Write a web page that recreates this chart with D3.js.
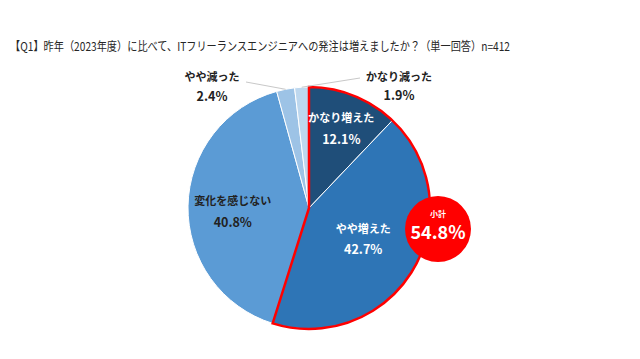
<!DOCTYPE html>
<html><head><meta charset="utf-8">
<script src="https://cdn.jsdelivr.net/npm/d3@7"></script>
<style>html,body{margin:0;padding:0;background:#fff;}svg{display:block;}</style>
</head><body>
<svg id="c" width="640" height="359"></svg>
<script>
const title = "【Q1】昨年（2023年度）に比べて、ITフリーランスエンジニアへの発注は増えましたか？（単一回答）n=412";
const categories = ["かなり増えた", "やや増えた", "変化を感じない", "やや減った", "かなり減った"];
const values = [12.1, 42.7, 40.8, 2.4, 1.9];
const subtotalLabel = "小計";
const subtotalValue = 54.8;

const colors = ["#1f4e79", "#2e75b6", "#5b9bd5", "#9dc3e6", "#bdd7ee"];
const textColors = ["#fff", "#fff", "#222", "#222", "#222"];
// layout: inside label radius fraction (+ vertical nudge), or outside label anchor
const labelLayout = [
  {inside: 0.72, dy: 2, gap: 22},
  {inside: 0.52, dy: 0, gap: 21},
  {inside: 0.63, dy: 5, gap: 22},
  {outside: [212, 78], lineEnd: [246, 82], gap: 20},
  {outside: [399, 78], lineEnd: [360, 78], gap: 19}
];

const svg = d3.select("#c");
const font = "'Noto Sans CJK JP', 'Noto Sans', sans-serif";
const cx = 309, cy = 208, R = 121;

svg.append("text").attr("x", 10).attr("y", 51)
  .attr("font-family", font).attr("font-size", 12).attr("fill", "#262626")
  .attr("textLength", 500).attr("lengthAdjust", "spacingAndGlyphs")
  .text(title);

const data = categories.map((c, i) => ({cat: c, value: values[i], i}));
const pie = d3.pie().value(d => d.value).sort(null).startAngle(0).endAngle(2 * Math.PI);
const arcs = pie(data);
const arc = d3.arc().innerRadius(0).outerRadius(R);

const g = svg.append("g").attr("transform", `translate(${cx},${cy})`);
g.selectAll("path.slice").data(arcs).enter().append("path")
  .attr("class", "slice")
  .attr("d", arc)
  .attr("fill", d => colors[d.data.i])
  .attr("stroke", "#fff").attr("stroke-width", 1);

// red outline around the "increased" slices
const incEnd = arcs[1].endAngle;
g.append("path")
  .attr("d", d3.arc().innerRadius(0).outerRadius(R)({startAngle: 0, endAngle: incEnd}))
  .attr("fill", "none").attr("stroke", "#ff0000").attr("stroke-width", 2.5)
  .attr("stroke-linejoin", "miter");

// labels
arcs.forEach((a, k) => {
  const L = labelLayout[k];
  const mid = (a.startAngle + a.endAngle) / 2;
  let x, y;
  if (L.inside !== undefined) {
    const r = R * L.inside;
    x = cx + r * Math.sin(mid);
    y = cy - r * Math.cos(mid) + L.dy;
  } else {
    x = L.outside[0]; y = L.outside[1];
    const px = cx + R * Math.sin(mid), py = cy - R * Math.cos(mid);
    svg.append("line").attr("x1", px).attr("y1", py)
      .attr("x2", L.lineEnd[0]).attr("y2", L.lineEnd[1])
      .attr("stroke", "#c8c8c8").attr("stroke-width", 1);
    y = y + 10;
  }
  const t = svg.append("text").attr("text-anchor", "middle")
    .attr("font-family", font).attr("font-weight", "bold").attr("font-size", 11)
    .attr("fill", textColors[k]);
  t.append("tspan").attr("x", x).attr("y", y - 7).text(a.data.cat);
  t.append("tspan").attr("x", x).attr("y", y - 7 + L.gap).attr("font-size", 12.5)
    .text(d3.format(".1f")(a.data.value) + "%");
});

// subtotal badge
const bx = 438, by = 229, br = 33;
svg.append("circle").attr("cx", bx).attr("cy", by).attr("r", br).attr("fill", "#ff0000");
svg.append("text").attr("x", bx).attr("y", by - 12).attr("text-anchor", "middle")
  .attr("font-family", font).attr("font-weight", "bold").attr("font-size", 8).attr("fill", "#fff")
  .text(subtotalLabel);
svg.append("text").attr("x", bx).attr("y", by + 10).attr("text-anchor", "middle")
  .attr("font-family", font).attr("font-weight", "bold").attr("font-size", 18).attr("fill", "#fff")
  .text(d3.format(".1f")(subtotalValue) + "%");
</script>
</body></html>
